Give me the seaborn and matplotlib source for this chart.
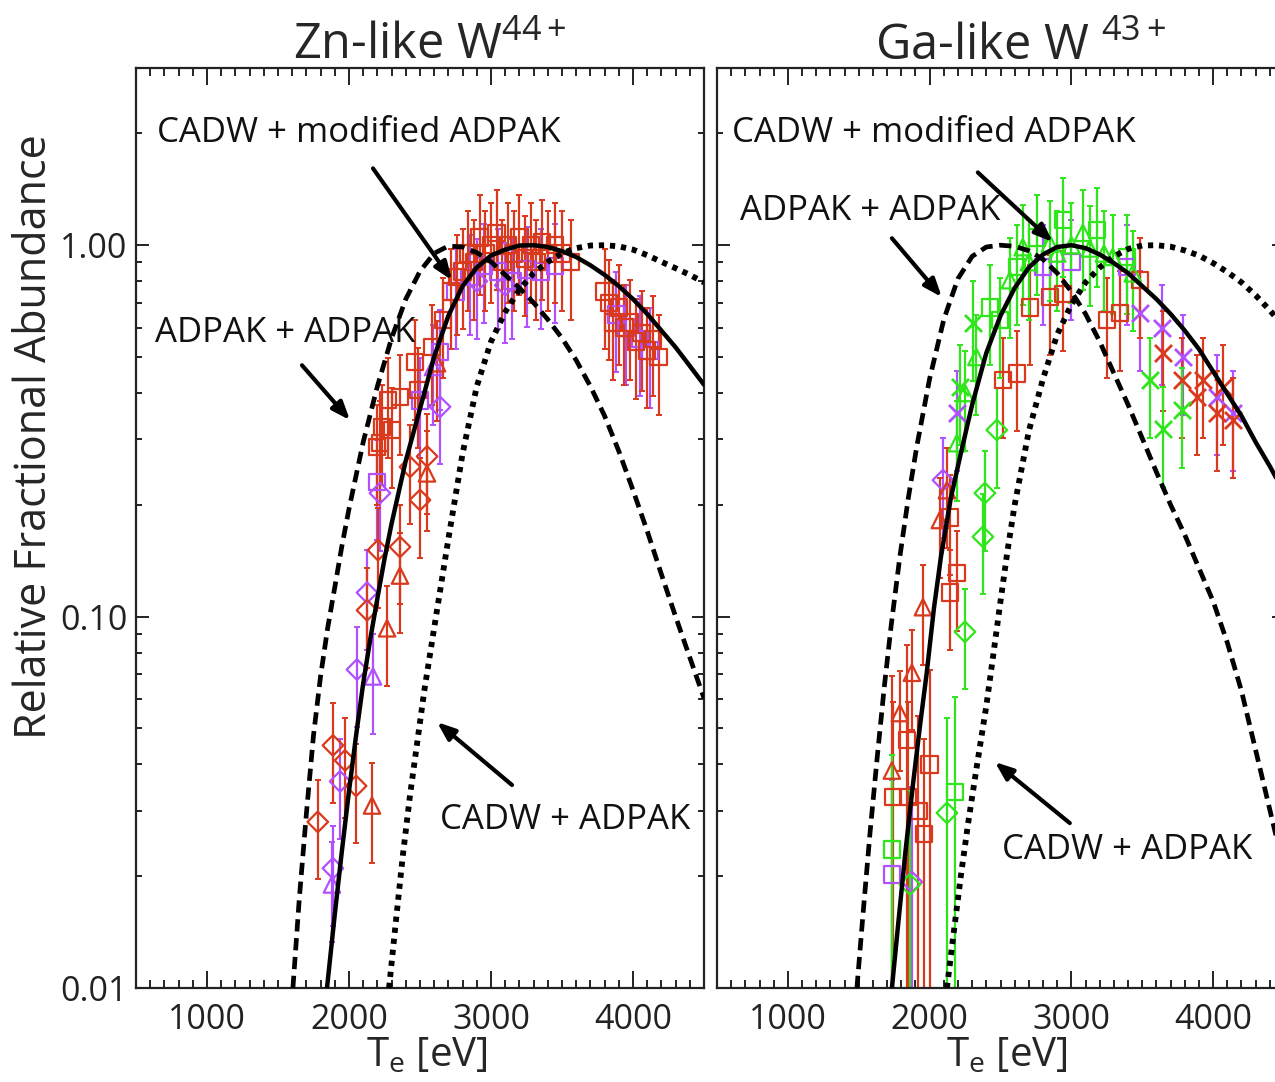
import numpy as np
import matplotlib
matplotlib.use("Agg")
import matplotlib.pyplot as plt
import seaborn as sns

# ---- theory curves, Zn-like W44+ (Te in eV, relative abundance) ----
zn_adpak_te = [1605, 1650, 1700, 1750, 1800, 1850, 1900, 1950, 2000, 2100, 2200, 2300, 2400, 2500, 2600,
               2700, 2800, 2900, 3000, 3100, 3200, 3300, 3400, 3500, 3600, 3700, 3800, 3900, 4000, 4100,
               4200, 4300, 4400, 4500]
zn_adpak_val = [0.0100, 0.0174, 0.0295, 0.0479, 0.0692, 0.0933, 0.120, 0.155, 0.195, 0.295, 0.417, 0.562,
                0.716, 0.851, 0.951, 0.995, 0.989, 0.955, 0.902, 0.832, 0.767, 0.700, 0.631, 0.562, 0.490,
                0.417, 0.347, 0.279, 0.219, 0.170, 0.130, 0.100, 0.0776, 0.0603]
zn_cadw_te = [2282, 2330, 2380, 2430, 2480, 2530, 2600, 2700, 2800, 2900, 3000, 3100, 3200, 3300, 3400,
              3500, 3600, 3700, 3800, 3900, 4000, 4100, 4200, 4300, 4400, 4500]
zn_cadw_val = [0.0100, 0.0151, 0.0229, 0.0331, 0.0457, 0.0631, 0.0933, 0.162, 0.275, 0.417, 0.550, 0.661,
               0.759, 0.841, 0.902, 0.951, 0.982, 0.998, 1.000, 0.993, 0.973, 0.940, 0.902, 0.867, 0.832,
               0.794]
zn_mod_te = [1845, 1900, 1950, 2000, 2050, 2100, 2150, 2200, 2250, 2300, 2400, 2500, 2600, 2700, 2800,
             2900, 3000, 3100, 3200, 3300, 3400, 3500, 3600, 3700, 3800, 3900, 4000, 4100, 4200, 4300,
             4400, 4500]
zn_mod_val = [0.0100, 0.0158, 0.0234, 0.0339, 0.0479, 0.0661, 0.0871, 0.112, 0.143, 0.178, 0.263, 0.363,
              0.501, 0.646, 0.776, 0.871, 0.938, 0.973, 0.998, 1.000, 0.989, 0.964, 0.929, 0.883, 0.832,
              0.776, 0.716, 0.653, 0.589, 0.531, 0.473, 0.421]

# ---- theory curves, Ga-like W43+ ----
ga_adpak_te = [1487, 1530, 1580, 1630, 1680, 1730, 1790, 1850, 1910, 2000, 2100, 2200, 2300, 2400, 2500,
               2600, 2700, 2800, 2900, 3000, 3100, 3200, 3300, 3400, 3500, 3600, 3700, 3800, 3900, 4000,
               4100, 4200, 4300, 4400, 4500]
ga_adpak_val = [0.0100, 0.0158, 0.0263, 0.0417, 0.0646, 0.0955, 0.145, 0.209, 0.288, 0.437, 0.631, 0.813,
                0.933, 0.989, 1.000, 0.993, 0.966, 0.916, 0.841, 0.750, 0.653, 0.550, 0.452, 0.372, 0.302,
                0.245, 0.200, 0.166, 0.135, 0.110, 0.0851, 0.0631, 0.0437, 0.0302, 0.0209]
ga_cadw_te = [2122, 2170, 2220, 2270, 2330, 2400, 2450, 2500, 2550, 2600, 2700, 2800, 2900, 3000, 3100,
              3200, 3300, 3400, 3500, 3600, 3700, 3800, 3900, 4000, 4100, 4200, 4300, 4400, 4500]
ga_cadw_val = [0.0100, 0.0141, 0.0200, 0.0275, 0.0389, 0.0575, 0.0794, 0.110, 0.151, 0.200, 0.316, 0.437,
               0.575, 0.692, 0.794, 0.871, 0.933, 0.977, 0.998, 1.000, 0.991, 0.968, 0.938, 0.895, 0.847,
               0.794, 0.733, 0.668, 0.603]
ga_mod_te = [1734, 1780, 1830, 1880, 1930, 1980, 2030, 2080, 2150, 2220, 2300, 2400, 2500, 2600, 2700,
             2800, 2900, 3000, 3100, 3200, 3300, 3400, 3500, 3600, 3700, 3800, 3900, 4000, 4100, 4200,
             4300, 4400, 4500]
ga_mod_val = [0.0100, 0.0151, 0.0234, 0.0347, 0.0501, 0.0708, 0.105, 0.145, 0.209, 0.275, 0.372, 0.513,
              0.646, 0.767, 0.871, 0.944, 0.989, 1.000, 0.982, 0.944, 0.895, 0.841, 0.776, 0.716, 0.653,
              0.589, 0.525, 0.457, 0.398, 0.347, 0.295, 0.254, 0.216]

# ---- measured points, Zn-like W44+ ----
zn_red_sq_te = [2197, 2218, 2232, 2275, 2303, 2359, 2465, 2486, 2584, 2662, 2720, 2760, 2800, 2840, 2880,
                2920, 2960, 3000, 3040, 3080, 3120, 3160, 3200, 3240, 3280, 3320, 3360, 3400, 3450, 3500,
                3560, 3800, 3830, 3860, 3900, 3940, 3980, 4020, 4060, 4100, 4140, 4180]
zn_red_sq_val = [0.286, 0.293, 0.324, 0.383, 0.318, 0.390, 0.484, 0.407, 0.532, 0.628, 0.75, 0.82, 0.85,
                 0.95, 0.90, 1.05, 0.95, 1.00, 1.08, 0.90, 1.00, 0.95, 1.05, 0.92, 1.00, 0.90, 1.02, 0.95,
                 1.00, 0.95, 0.90, 0.75, 0.70, 0.62, 0.68, 0.60, 0.62, 0.55, 0.58, 0.52, 0.56, 0.50]
zn_red_di_te = [1780, 1887, 1972, 2050, 2127, 2204, 2359, 2430, 2500, 2550]
zn_red_di_val = [0.028, 0.045, 0.041, 0.035, 0.104, 0.151, 0.154, 0.253, 0.206, 0.270]
zn_red_tr_te = [2162, 2268, 2359, 2549, 2620]
zn_red_tr_val = [0.031, 0.093, 0.129, 0.243, 0.481]
zn_pu_sq_te = [2197, 2500, 2641, 2750, 2850, 2950, 3050, 3150, 3250, 3350, 3450, 3880, 3950, 4050, 4120]
zn_pu_sq_val = [0.230, 0.382, 0.515, 0.75, 0.82, 0.88, 0.85, 0.80, 0.86, 0.85, 0.88, 0.65, 0.60, 0.56, 0.52]
zn_pu_di_te = [1887, 1937, 2056, 2127, 2218, 2641, 2900, 3100]
zn_pu_di_val = [0.021, 0.036, 0.072, 0.116, 0.215, 0.367, 0.80, 0.78]
zn_pu_tr_te = [1880, 2169, 2592]
zn_pu_tr_val = [0.019, 0.069, 0.47]

# ---- measured points, Ga-like W43+ ----
ga_gr_sq_te = [1734, 2178, 2425, 2495, 2616, 2756, 2940, 3179, 3391]
ga_gr_sq_val = [0.0236, 0.0337, 0.68, 0.628, 0.873, 1.05, 1.17, 1.10, 0.93]
ga_gr_tr_te = [2192, 2250, 2330, 2566, 2657, 2700, 2848, 2900, 3000, 3081, 3130, 3230, 3292, 3433]
ga_gr_tr_val = [0.293, 0.40, 0.50, 0.805, 0.988, 0.90, 1.01, 0.95, 1.00, 1.08, 0.98, 0.95, 0.93, 0.84]
ga_gr_di_te = [1861, 2122, 2249, 2376, 2390, 2474]
ga_gr_di_val = [0.019, 0.0296, 0.091, 0.164, 0.215, 0.318]
ga_gr_x_te = [2213, 2305, 3554, 3645, 3779]
ga_gr_x_val = [0.415, 0.617, 0.433, 0.32, 0.36]
ga_red_sq_te = [1741, 1840, 1847, 1920, 1960, 2000, 2143, 2143, 2192, 2516, 2616, 2707, 2848, 2940, 3250,
                3342, 3483]
ga_red_sq_val = [0.0327, 0.0465, 0.0327, 0.030, 0.026, 0.040, 0.185, 0.116, 0.131, 0.433, 0.452, 0.68,
                 0.725, 0.74, 0.628, 0.656, 0.805]
ga_red_tr_te = [1734, 1790, 1875, 1953, 2072, 2122]
ga_red_tr_val = [0.0385, 0.055, 0.0706, 0.106, 0.182, 0.219]
ga_red_x_te = [3645, 3779, 3885, 3926, 4026, 4067, 4138]
ga_red_x_val = [0.512, 0.433, 0.39, 0.433, 0.353, 0.415, 0.338]
ga_pu_sq_te = [1734, 2798, 3000, 3391]
ga_pu_sq_val = [0.0202, 0.873, 0.90, 0.873]
ga_pu_di_te = [1875, 2094]
ga_pu_di_val = [0.0193, 0.233]
ga_pu_x_te = [2192, 3484, 3638, 3786, 4026, 4138]
ga_pu_x_val = [0.353, 0.656, 0.60, 0.50, 0.39, 0.353]

# fractional error bars (the low-Te Ga-like points have much larger ones)
rel_err = 0.3
ga_low_rel_err = 0.8

RED = "#d9391c"
PURPLE = "#b050ff"
GREEN = "#2ee619"

sns.set_theme(style="white")
plt.rcParams["font.family"] = ["Open Sans", "DejaVu Sans"]
plt.rcParams["mathtext.fontset"] = "custom"
plt.rcParams["mathtext.rm"] = "Open Sans"
plt.rcParams["mathtext.it"] = "Open Sans"

fig = plt.figure(figsize=(12.75, 10.82), dpi=100)
W, H = 1275.0, 1082.0
ax1 = fig.add_axes([136 / W, 1 - 988 / H, 568 / W, 920 / H])
ax2 = fig.add_axes([717 / W, 1 - 988 / H, 567 / W, 920 / H])


def draw_points(ax, te, val, color, marker):
    te = np.array(te)
    val = np.array(val)
    err = np.where((val < 0.05) & (ax is ax2), ga_low_rel_err, rel_err) * val
    ax.errorbar(te, val, yerr=err, fmt="none", ecolor=color,
                elinewidth=1.6, capsize=2.5, capthick=1.4, zorder=2)
    if marker == "x":
        sns.scatterplot(x=te, y=val, ax=ax, marker="x", s=150, color=color,
                        linewidth=2, zorder=3)
    else:
        sns.scatterplot(x=te, y=val, ax=ax, marker=marker, s=140 if marker != "D" else 110,
                        color=color, facecolor="none", edgecolor=color, linewidth=1.6, zorder=3)


def draw_curves(ax, a_te, a_val, c_te, c_val, m_te, m_val):
    sns.lineplot(x=a_te, y=a_val, ax=ax, color="black", lw=3.4, sort=False,
                 estimator=None, linestyle=(0, (2.6, 1.4)), zorder=5)
    sns.lineplot(x=c_te, y=c_val, ax=ax, color="black", lw=4.2, sort=False,
                 estimator=None, linestyle=(0, (0.9, 1.0)), zorder=5)
    sns.lineplot(x=m_te, y=m_val, ax=ax, color="black", lw=3.2, sort=False,
                 estimator=None, zorder=6)


# left panel
for te, val, c, m in [
    (zn_pu_sq_te, zn_pu_sq_val, PURPLE, "s"),
    (zn_pu_di_te, zn_pu_di_val, PURPLE, "D"),
    (zn_pu_tr_te, zn_pu_tr_val, PURPLE, "^"),
    (zn_red_sq_te, zn_red_sq_val, RED, "s"),
    (zn_red_di_te, zn_red_di_val, RED, "D"),
    (zn_red_tr_te, zn_red_tr_val, RED, "^"),
]:
    draw_points(ax1, te, val, c, m)
draw_curves(ax1, zn_adpak_te, zn_adpak_val, zn_cadw_te, zn_cadw_val, zn_mod_te, zn_mod_val)

# right panel
for te, val, c, m in [
    (ga_pu_sq_te, ga_pu_sq_val, PURPLE, "s"),
    (ga_pu_di_te, ga_pu_di_val, PURPLE, "D"),
    (ga_pu_x_te, ga_pu_x_val, PURPLE, "x"),
    (ga_red_sq_te, ga_red_sq_val, RED, "s"),
    (ga_red_tr_te, ga_red_tr_val, RED, "^"),
    (ga_red_x_te, ga_red_x_val, RED, "x"),
    (ga_gr_sq_te, ga_gr_sq_val, GREEN, "s"),
    (ga_gr_di_te, ga_gr_di_val, GREEN, "D"),
    (ga_gr_tr_te, ga_gr_tr_val, GREEN, "^"),
    (ga_gr_x_te, ga_gr_x_val, GREEN, "x"),
]:
    draw_points(ax2, te, val, c, m)
draw_curves(ax2, ga_adpak_te, ga_adpak_val, ga_cadw_te, ga_cadw_val, ga_mod_te, ga_mod_val)

for ax in (ax1, ax2):
    ax.set_yscale("log")
    ax.set_xlim(500, 4500)
    ax.set_ylim(0.01, 3.0)
    ax.set_xticks([1000, 2000, 3000, 4000])
    ax.set_xticks(np.arange(600, 4500, 100), minor=True)
    ax.set_yticks([0.01, 0.1, 1.0])
    ax.tick_params(which="both", direction="in", top=True, right=True,
                   bottom=True, left=True, width=1.4, colors="#222222")
    ax.tick_params(axis="x", which="major", length=12, labelsize=24.5, pad=11)
    ax.tick_params(axis="x", which="minor", length=6)
    ax.tick_params(axis="y", which="major", length=9, labelsize=24.5, pad=6)
    ax.tick_params(axis="y", which="minor", length=4.5)
    for s in ax.spines.values():
        s.set_linewidth(1.6)
        s.set_color("#222222")
    ax.set_xlabel("")
    ax.set_ylabel("")
    ax.grid(False)

ax1.set_yticklabels(["0.01", "0.10", "1.00"])
ax2.tick_params(axis="y", which="both", labelleft=False)

arrow = dict(arrowstyle="-|>,head_length=0.9,head_width=0.35", lw=3, color="black",
             shrinkA=0, shrinkB=0)
txt = dict(fontsize=25, va="center", ha="left", color="#111111")

ax1.text(648, 2.0, "CADW + modified ADPAK", **txt)
ax1.annotate("", xy=(2725, 0.805), xytext=(2169, 1.61), arrowprops=arrow)
ax1.text(634, 0.58, "ADPAK + ADPAK", **txt)
ax1.annotate("", xy=(2007, 0.338), xytext=(1669, 0.475), arrowprops=arrow)
ax1.text(2641, 0.0283, "CADW + ADPAK", **txt)
ax1.annotate("", xy=(2620, 0.052), xytext=(3148, 0.0352), arrowprops=arrow)

ax2.text(606, 2.0, "CADW + modified ADPAK", **txt)
ax2.annotate("", xy=(2869, 1.02), xytext=(2340, 1.57), arrowprops=arrow)
ax2.text(662, 1.24, "ADPAK + ADPAK", **txt)
ax2.annotate("", xy=(2086, 0.725), xytext=(1734, 1.044), arrowprops=arrow)
ax2.text(2509, 0.0235, "CADW + ADPAK", **txt)
ax2.annotate("", xy=(2460, 0.0406), xytext=(2989, 0.0278), arrowprops=arrow)

fig.text(430 / W, 1 - 60 / H, "Zn-like W$^{44+}$", fontsize=35, ha="center", va="baseline")
fig.text(1021 / W, 1 - 60 / H, "Ga-like W $^{43+}$", fontsize=35, ha="center", va="baseline")
fig.text(35 / W, 1 - 437 / H, "Relative Fractional Abundance", fontsize=31,
         rotation=90, ha="center", va="center")
fig.text(427 / W, 1 - 1066 / H, "T$_\\mathregular{e}$ [eV]", fontsize=29, ha="center", va="baseline")
fig.text(1007 / W, 1 - 1066 / H, "T$_\\mathregular{e}$ [eV]", fontsize=29, ha="center", va="baseline")

fig.savefig("out.png", dpi=100)
